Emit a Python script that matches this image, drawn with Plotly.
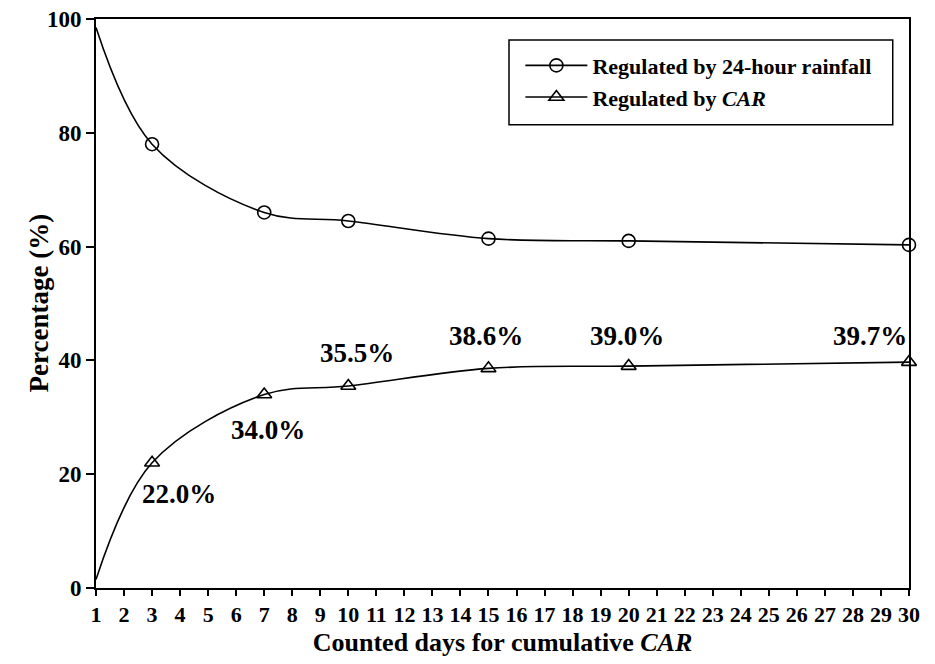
import plotly.graph_objects as go

days = [1, 3, 7, 10, 15, 20, 30]
rainfall_pct = [98.5, 78.0, 66.0, 64.5, 61.4, 61.0, 60.3]
car_pct = [1.5, 22.0, 34.0, 35.5, 38.6, 39.0, 39.7]
car_labels = ["22.0%", "34.0%", "35.5%", "38.6%", "39.0%", "39.7%"]
label_shift = [(27, -31), (4, -35), (9, 33), (-2, 32), (-2, 30), (-39, 26)]

FONT = "Liberation Serif"
fig = go.Figure()

# smooth curves
for ys in (rainfall_pct, car_pct):
    fig.add_trace(go.Scatter(x=days, y=ys, mode="lines", showlegend=False,
                             line=dict(color="black", width=1.6, shape="spline", smoothing=1.0),
                             cliponaxis=False, hoverinfo="skip"))
# markers
fig.add_trace(go.Scatter(x=days[1:], y=rainfall_pct[1:], mode="markers", showlegend=False,
                         marker=dict(symbol="circle-open", size=13, color="black", line=dict(width=1.6)),
                         cliponaxis=False))
fig.add_trace(go.Scatter(x=days[1:], y=car_pct[1:], mode="markers", showlegend=False,
                         marker=dict(symbol="triangle-up-open", size=13, color="black", line=dict(width=1.6)),
                         cliponaxis=False))
# legend entries
fig.add_trace(go.Scatter(x=[None], y=[None], mode="lines+markers", name="<b>Regulated by 24-hour rainfall</b>",
                         line=dict(color="black", width=1.6),
                         marker=dict(symbol="circle-open", size=13, color="black", line=dict(width=1.6))))
fig.add_trace(go.Scatter(x=[None], y=[None], mode="lines+markers", name="<b>Regulated by <i>CAR</i></b>",
                         line=dict(color="black", width=1.6),
                         marker=dict(symbol="triangle-up-open", size=13, color="black", line=dict(width=1.6))))

for d, v, t, (dx, dy) in zip(days[1:], car_pct[1:], car_labels, label_shift):
    fig.add_annotation(x=d, y=v, text="<b>" + t + "</b>", showarrow=False, xshift=dx, yshift=dy,
                       font=dict(family=FONT, size=27, color="black"))

# y-axis title
fig.add_annotation(xref="paper", yref="paper", x=0, y=0.5, xshift=-58, textangle=-90,
                   text="<b>Percentage (%)</b>", showarrow=False, xanchor="center", yanchor="middle",
                   font=dict(family=FONT, size=27, color="black"))

# legend box
fig.add_shape(type="rect", xref="paper", yref="paper", x0=0.508, x1=0.980, y0=0.814, y1=0.963,
              line=dict(color="black", width=1.5), fillcolor="rgba(0,0,0,0)")

fig.update_layout(
    width=935, height=664,
    margin=dict(l=96, r=26, t=19, b=76),
    paper_bgcolor="white", plot_bgcolor="white",
    font=dict(family=FONT, color="black"),
    legend=dict(x=0.522, y=0.955, xanchor="left", yanchor="top", bgcolor="rgba(0,0,0,0)",
                borderwidth=0, font=dict(family=FONT, size=22, color="black"),
                tracegroupgap=0, itemwidth=62),
    xaxis=dict(range=[1, 30], tickmode="linear", tick0=1, dtick=1, ticks="outside", ticklen=6,
               tickwidth=1.5, tickcolor="black", showline=True, linecolor="black", linewidth=1.8,
               mirror=True, showgrid=False, zeroline=False, automargin=False,
               ticklabeloverflow="allow",
               tickprefix="<b>", ticksuffix="</b>",
               tickfont=dict(family=FONT, size=22, color="black"),
               title=dict(text="<b>Counted days for cumulative <i>CAR</i></b>",
                          font=dict(family=FONT, size=26, color="black"), standoff=7)),
    yaxis=dict(range=[0, 100], tickmode="linear", tick0=0, dtick=20, ticks="outside", ticklen=8,
               tickwidth=1.5, tickcolor="black", showline=True, linecolor="black", linewidth=1.8,
               mirror=True, showgrid=False, zeroline=False, automargin=False,
               ticklabeloverflow="allow",
               tickprefix="<b>", ticksuffix="</b>",
               tickfont=dict(family=FONT, size=23, color="black")),
)

# remove the default 8px page margin so the figure fills the window exactly
fig.write_html("out.html", config={"displayModeBar": False},
               post_script="document.body.style.margin='0';")
